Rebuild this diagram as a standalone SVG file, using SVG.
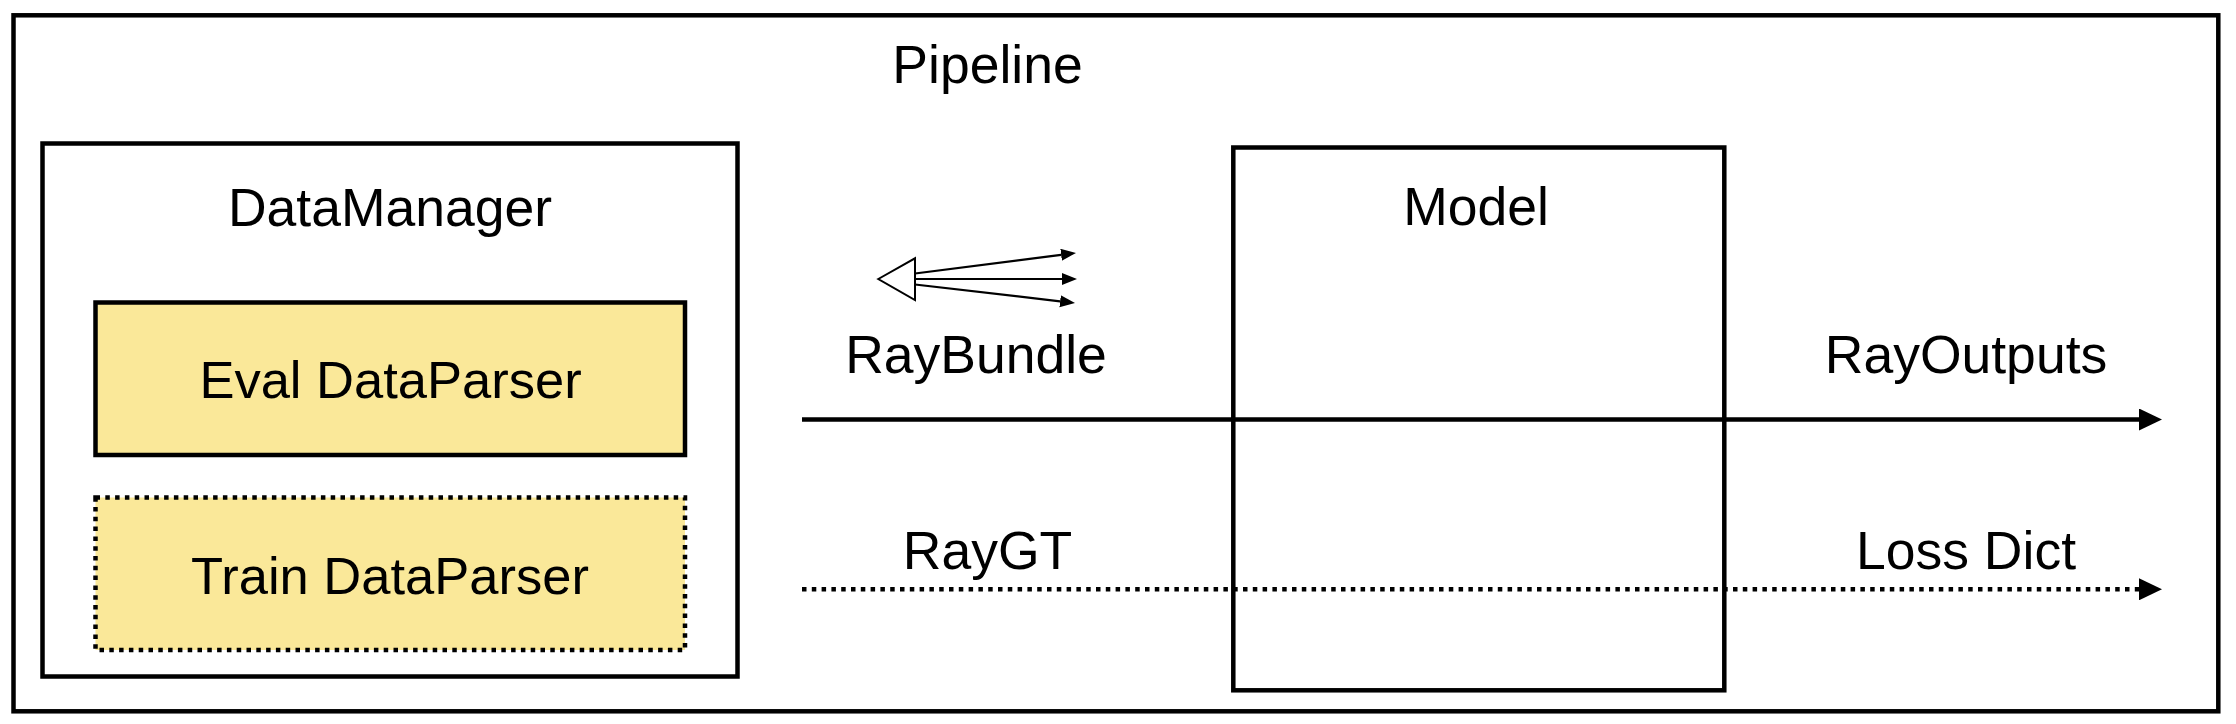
<svg xmlns="http://www.w3.org/2000/svg" width="2236" height="724" viewBox="0 0 2236 724">
<style>
.box{fill:none;stroke:#000;stroke-width:4.5}
.white{fill:#fff;stroke:#000;stroke-width:4.5}
.parser{fill:#fae899;stroke:#000;stroke-width:4.5}
.dot{stroke-dasharray:4.5 5.3}
.lbl{font-family:"Liberation Sans",Arial,Helvetica,sans-serif;font-size:53.5px;fill:#000;text-anchor:middle}
.sm{font-size:52.5px}
.conn{stroke:#000;stroke-width:4.5;fill:none}
.thin{stroke:#000;stroke-width:2.2;fill:none}
</style>
<defs>
<marker id="head" markerUnits="userSpaceOnUse" markerWidth="24" markerHeight="22" refX="0" refY="11" orient="auto" viewBox="0 0 24 22">
<path d="M0,0 L23,11 L0,22 z" fill="#000"/>
</marker>
<marker id="small" markerUnits="userSpaceOnUse" markerWidth="16" markerHeight="13" refX="0" refY="6" orient="auto" viewBox="0 0 16 13">
<path d="M0,0 L15,6 L0,12 z" fill="#000"/>
</marker>
</defs>
<rect width="2236" height="724" fill="#fff"/>
<g id="pipeline">
<rect class="box" x="13.5" y="15.3" width="2204.8" height="696"/>
<text class="lbl" x="987.5" y="83.3">Pipeline</text>
</g>
<g id="datamanager">
<rect class="white" x="42.5" y="143.5" width="695" height="533"/>
<text class="lbl" x="390" y="226">DataManager</text>
</g>
<g id="eval-dataparser">
<rect class="parser" x="95.5" y="302.5" width="589.5" height="152.5"/>
<text class="lbl sm" x="390.5" y="398">Eval DataParser</text>
</g>
<g id="train-dataparser">
<rect class="parser dot" x="95.5" y="497.5" width="589.5" height="152.5"/>
<text class="lbl sm" x="390" y="593.5">Train DataParser</text>
</g>
<g id="model">
<rect class="box" x="1233.3" y="147.5" width="491" height="542.8"/>
<text class="lbl" x="1476" y="225">Model</text>
</g>
<g id="raybundle-icon">
<polygon points="878.3,279 915,258.3 915,300" fill="#fff" stroke="#000" stroke-width="2"/>
</g>
<g id="connectors">
<line class="thin" x1="915" y1="273.5" x2="1061.1" y2="254.8" marker-end="url(#small)"/>
<line class="thin" x1="915" y1="279" x2="1062" y2="279" marker-end="url(#small)"/>
<line class="thin" x1="915" y1="284.5" x2="1060.1" y2="301.3" marker-end="url(#small)"/>
<line class="conn" x1="802" y1="419.5" x2="2139" y2="419.5" marker-end="url(#head)"/>
<line class="conn dot" x1="802" y1="589.3" x2="2139" y2="589.3" marker-end="url(#head)"/>
</g>
<g id="labels">
<text class="lbl" x="976" y="373.4">RayBundle</text>
<text class="lbl" x="987.5" y="569.3">RayGT</text>
<text class="lbl" x="1966" y="373.3">RayOutputs</text>
<text class="lbl" x="1966" y="569.3">Loss Dict</text>
</g>
</svg>
